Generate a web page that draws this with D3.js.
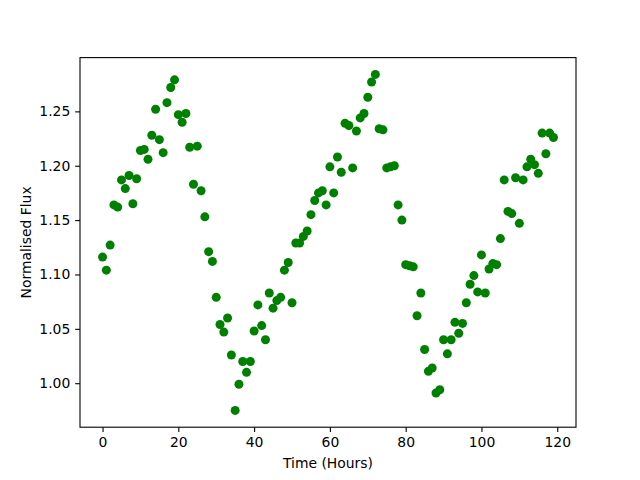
<!DOCTYPE html>
<html>
<head>
<meta charset="utf-8">
<script src="https://cdn.jsdelivr.net/npm/d3@7"></script>
<style>
  body { margin: 0; background: #fff; }
  svg { display: block; font-family: "DejaVu Sans", sans-serif; }
</style>
</head>
<body>
<div id="chart"></div>
<script>
// hourly samples
const flux = [
  1.116, 1.104, 1.127, 1.164, 1.162, 1.187, 1.179, 1.191, 1.165, 1.188,
  1.214, 1.215, 1.206, 1.228, 1.252, 1.224, 1.212, 1.258, 1.272, 1.279,
  1.247, 1.240, 1.248, 1.217, 1.183, 1.218, 1.177, 1.153, 1.121, 1.112,
  1.079, 1.054, 1.047, 1.060, 1.026, 0.975, 0.999, 1.020, 1.010, 1.020,
  1.048, 1.072, 1.053, 1.040, 1.083, 1.069, 1.076, 1.079, 1.104, 1.111,
  1.074, 1.129, 1.129, 1.135, 1.140, 1.155, 1.168, 1.175, 1.177, 1.164,
  1.199, 1.175, 1.208, 1.194, 1.239, 1.237, 1.198, 1.232, 1.244, 1.248,
  1.263, 1.277, 1.284, 1.234, 1.233, 1.198, 1.199, 1.200, 1.164, 1.150,
  1.109, 1.108, 1.107, 1.062, 1.083, 1.031, 1.011, 1.014, 0.991, 0.994,
  1.040, 1.027, 1.040, 1.056, 1.046, 1.055, 1.074, 1.091, 1.099, 1.084,
  1.118, 1.083, 1.105, 1.110, 1.109, 1.133, 1.187, 1.158, 1.156, 1.189,
  1.147, 1.187, 1.199, 1.206, 1.201, 1.193, 1.230, 1.211, 1.230, 1.226
];
const hours = flux.map((d, i) => i);
const xTicks = [0, 20, 40, 60, 80, 100, 120];
const yTicks = [1.00, 1.05, 1.10, 1.15, 1.20, 1.25];

const W = 640, H = 480;
const margin = { top: 57.6, right: 64, bottom: 52.8, left: 80 };
const width = W - margin.left - margin.right;
const height = H - margin.top - margin.bottom;
const fontPx = 13.9;
const tickLen = 4.86, tickPad = 4.86;

// matplotlib-style 5% padding
function padded(vals) {
  const [lo, hi] = d3.extent(vals);
  const p = (hi - lo) * 0.05;
  return [lo - p, hi + p];
}

const svg = d3.select('#chart')
  .append('svg')
  .attr('width', W)
  .attr('height', H);

const g = svg.append('g')
  .attr('transform', `translate(${margin.left},${margin.top})`);

const x = d3.scaleLinear().domain(padded(hours)).range([0, width]);
const y = d3.scaleLinear().domain(padded(flux)).range([height, 0]);

g.selectAll('circle')
  .data(flux)
  .enter()
  .append('circle')
  .attr('cx', (d, i) => x(hours[i]))
  .attr('cy', d => y(d))
  .attr('r', 4.5)
  .attr('fill', '#008000');

const xAxis = g.append('g')
  .attr('transform', `translate(0,${height})`)
  .call(d3.axisBottom(x).tickValues(xTicks).tickFormat(d3.format('d'))
    .tickSizeInner(tickLen).tickSizeOuter(0).tickPadding(tickPad));

const yAxis = g.append('g')
  .call(d3.axisLeft(y).tickValues(yTicks).tickFormat(d3.format('.2f'))
    .tickSizeInner(tickLen).tickSizeOuter(0).tickPadding(tickPad));

[xAxis, yAxis].forEach(a => {
  a.select('.domain').remove();
  a.selectAll('line').attr('stroke', '#000').attr('stroke-width', 1.1);
  a.selectAll('text')
    .attr('fill', '#000')
    .style('font-size', fontPx + 'px')
    .style('font-family', '"DejaVu Sans", sans-serif');
});

// frame
g.append('rect')
  .attr('width', width)
  .attr('height', height)
  .attr('fill', 'none')
  .attr('stroke', '#000')
  .attr('stroke-width', 1.1);

svg.append('text')
  .attr('x', margin.left + width / 2)
  .attr('y', 468)
  .attr('text-anchor', 'middle')
  .style('font-size', fontPx + 'px')
  .text('Time (Hours)');

svg.append('text')
  .attr('transform', `translate(31,${margin.top + height / 2}) rotate(-90)`)
  .attr('text-anchor', 'middle')
  .style('font-size', fontPx + 'px')
  .text('Normalised Flux');
</script>
</body>
</html>
